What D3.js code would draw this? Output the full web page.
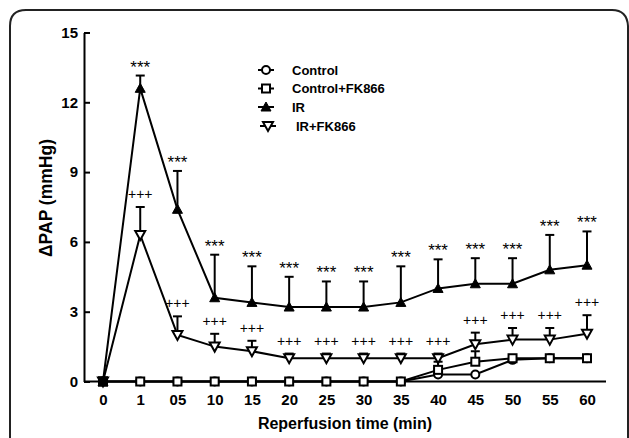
<!DOCTYPE html>
<html>
<head>
<meta charset="utf-8">
<script src="https://cdn.jsdelivr.net/npm/d3@7"></script>
<style>
  html, body { margin: 0; padding: 0; background: #fff; }
  svg { display: block; }
  text { font-family: "Liberation Sans", Arial, sans-serif; fill: #000; }
</style>
</head>
<body>
<svg id="chart" width="629" height="438"></svg>
<script>
// ---- data ----
const categories = ["0","1","05","10","15","20","25","30","35","40","45","50","55","60"];
const yTicks = [0, 3, 6, 9, 12, 15];

const controlMean   = [0,0,0,0,0,0,0,0,0,0.3,0.3,0.93,1.0,1.0];
const controlSem    = [0,0,0,0,0,0,0,0,0,0.25,0,0,0,0];
const controlFkMean = [0,0,0,0,0,0,0,0,0,0.5,0.85,1.0,1.0,1.0];
const controlFkSem  = [0,0,0,0,0,0,0,0,0,0.35,0.45,0,0,0];
const irMean        = [0,12.6,7.4,3.6,3.4,3.2,3.2,3.2,3.4,4.0,4.2,4.2,4.8,5.0];
const irSem         = [0,0.55,1.65,1.85,1.55,1.3,1.1,1.1,1.55,1.25,1.1,1.1,1.5,1.45];
const irFkMean      = [0,6.3,2.0,1.5,1.3,1.0,1.0,1.0,1.0,1.0,1.6,1.8,1.8,2.05];
const irFkSem       = [0,1.2,0.8,0.55,0.45,0.2,0.2,0.2,0.2,0.2,0.5,0.5,0.5,0.8];

const irMarks   = ["","***","***","***","***","***","***","***","***","***","***","***","***","***"];
const irFkMarks = ["","+++","+++","+++","+++","+++","+++","+++","+++","+++","+++","+++","+++","+++"];

const legendLabels = ["Control","Control+FK866","IR","IR+FK866"];

// ---- drawing ----
const svg = d3.select("#chart");

// frame
svg.append("path")
  .attr("d", "M10,440 L10,26 Q10,10 26,10 L612,10 Q627,10 628,26 L628,440")
  .attr("fill", "none").attr("stroke", "#222").attr("stroke-width", 2);

const x = d3.scalePoint().domain(categories).range([103, 587]);
const y = d3.scaleLinear().domain([0, 15]).range([381.5, 32.5]);

// y axis
const yAxis = svg.append("g").attr("transform", "translate(84,0)")
  .call(d3.axisLeft(y).tickValues(yTicks).tickSizeInner(-6).tickSizeOuter(0).tickPadding(6));
yAxis.select(".domain").attr("stroke", "#000").attr("stroke-width", 2);
yAxis.selectAll(".tick line").attr("stroke", "#000").attr("stroke-width", 2);
yAxis.selectAll("text").attr("font-size", 15).attr("font-weight", "bold")
  .attr("font-family", "Liberation Sans, Arial, sans-serif");

// x axis
const xAxis = svg.append("g").attr("transform", `translate(0,${y(0)})`)
  .call(d3.axisBottom(x).tickSize(0).tickPadding(13));
xAxis.select(".domain").attr("d", "M84,0H606").attr("stroke", "#000").attr("stroke-width", 2);
xAxis.selectAll("text").attr("font-size", 15).attr("font-weight", "bold")
  .attr("font-family", "Liberation Sans, Arial, sans-serif");

// axis titles
svg.append("text").attr("x", 345).attr("y", 429).attr("text-anchor", "middle")
  .attr("font-size", 16).attr("font-weight", "bold").text("Reperfusion time (min)");
svg.append("text").attr("transform", "translate(52,198) rotate(-90)").attr("text-anchor", "middle")
  .attr("font-size", 17.5).attr("font-weight", "bold").text("\u0394PAP (mmHg)");

// series definitions
const series = [
  { name: legendLabels[0], mean: controlMean,   sem: controlSem,   sym: "circle" },
  { name: legendLabels[1], mean: controlFkMean, sem: controlFkSem, sym: "square" },
  { name: legendLabels[2], mean: irMean,        sem: irSem,        sym: "triUp" },
  { name: legendLabels[3], mean: irFkMean,      sem: irFkSem,      sym: "triDown" }
];

function drawMarker(g, sym, cx, cy) {
  if (sym === "circle") {
    g.append("circle").attr("cx", cx).attr("cy", cy).attr("r", 4)
      .attr("fill", "#fff").attr("stroke", "#000").attr("stroke-width", 2);
  } else if (sym === "square") {
    g.append("rect").attr("x", cx - 4).attr("y", cy - 4).attr("width", 8).attr("height", 8)
      .attr("fill", "#fff").attr("stroke", "#000").attr("stroke-width", 2);
  } else if (sym === "triUp") {
    g.append("path").attr("d", `M${cx},${cy-5} L${cx+5},${cy+4} L${cx-5},${cy+4} Z`)
      .attr("fill", "#000").attr("stroke", "#000").attr("stroke-width", 1);
  } else {
    g.append("path").attr("d", `M${cx-5},${cy-4} L${cx+5},${cy-4} L${cx},${cy+5} Z`)
      .attr("fill", "#fff").attr("stroke", "#000").attr("stroke-width", 2);
  }
}

const line = d3.line().x((d, i) => x(categories[i])).y(d => y(d));

series.forEach(s => {
  const g = svg.append("g");
  // error bars (upper)
  s.mean.forEach((m, i) => {
    if (s.sem[i] > 0) {
      const cx = x(categories[i]);
      const top = y(m + s.sem[i]);
      g.append("line").attr("x1", cx).attr("x2", cx).attr("y1", y(m)).attr("y2", top)
        .attr("stroke", "#000").attr("stroke-width", 2);
      g.append("line").attr("x1", cx - 4.5).attr("x2", cx + 4.5).attr("y1", top).attr("y2", top)
        .attr("stroke", "#000").attr("stroke-width", 2);
    }
  });
  g.append("path").datum(s.mean).attr("d", line)
    .attr("fill", "none").attr("stroke", "#000").attr("stroke-width", 2);
  s.mean.forEach((m, i) => drawMarker(g, s.sym, x(categories[i]), y(m)));
});

// overlapping markers at time 0 read as one solid block in the original
svg.append("rect").attr("x", x(categories[0]) - 5).attr("y", y(0) - 5)
  .attr("width", 10).attr("height", 10).attr("fill", "#000");

// significance marks
irMean.forEach((m, i) => {
  if (!irMarks[i]) return;
  svg.append("text").attr("x", x(categories[i])).attr("y", y(m + irSem[i]) - 3)
    .attr("text-anchor", "middle").attr("font-size", 17)
    .text(irMarks[i]);
});
irFkMean.forEach((m, i) => {
  if (!irFkMarks[i]) return;
  svg.append("text").attr("x", x(categories[i])).attr("y", y(m + irFkSem[i]) - 8)
    .attr("text-anchor", "middle").attr("font-size", 14)
    .attr("fill", "#000").style("-webkit-font-smoothing", "antialiased")
    .text(irFkMarks[i]);
});

// legend
const legendRows = [70, 88.5, 107, 126];
const legendX = [266, 266, 266, 268];
const legendTextX = [292, 292, 292, 296];
series.forEach((s, i) => {
  const g = svg.append("g");
  g.append("line").attr("x1", legendX[i] - 8).attr("x2", legendX[i] + 8)
    .attr("y1", legendRows[i]).attr("y2", legendRows[i]).attr("stroke", "#000").attr("stroke-width", 2);
  drawMarker(g, s.sym, legendX[i], legendRows[i]);
  g.append("text").attr("x", legendTextX[i]).attr("y", legendRows[i] + 4.5)
    .attr("font-size", 13).attr("font-weight", "bold").text(s.name);
});
</script>
</body>
</html>
